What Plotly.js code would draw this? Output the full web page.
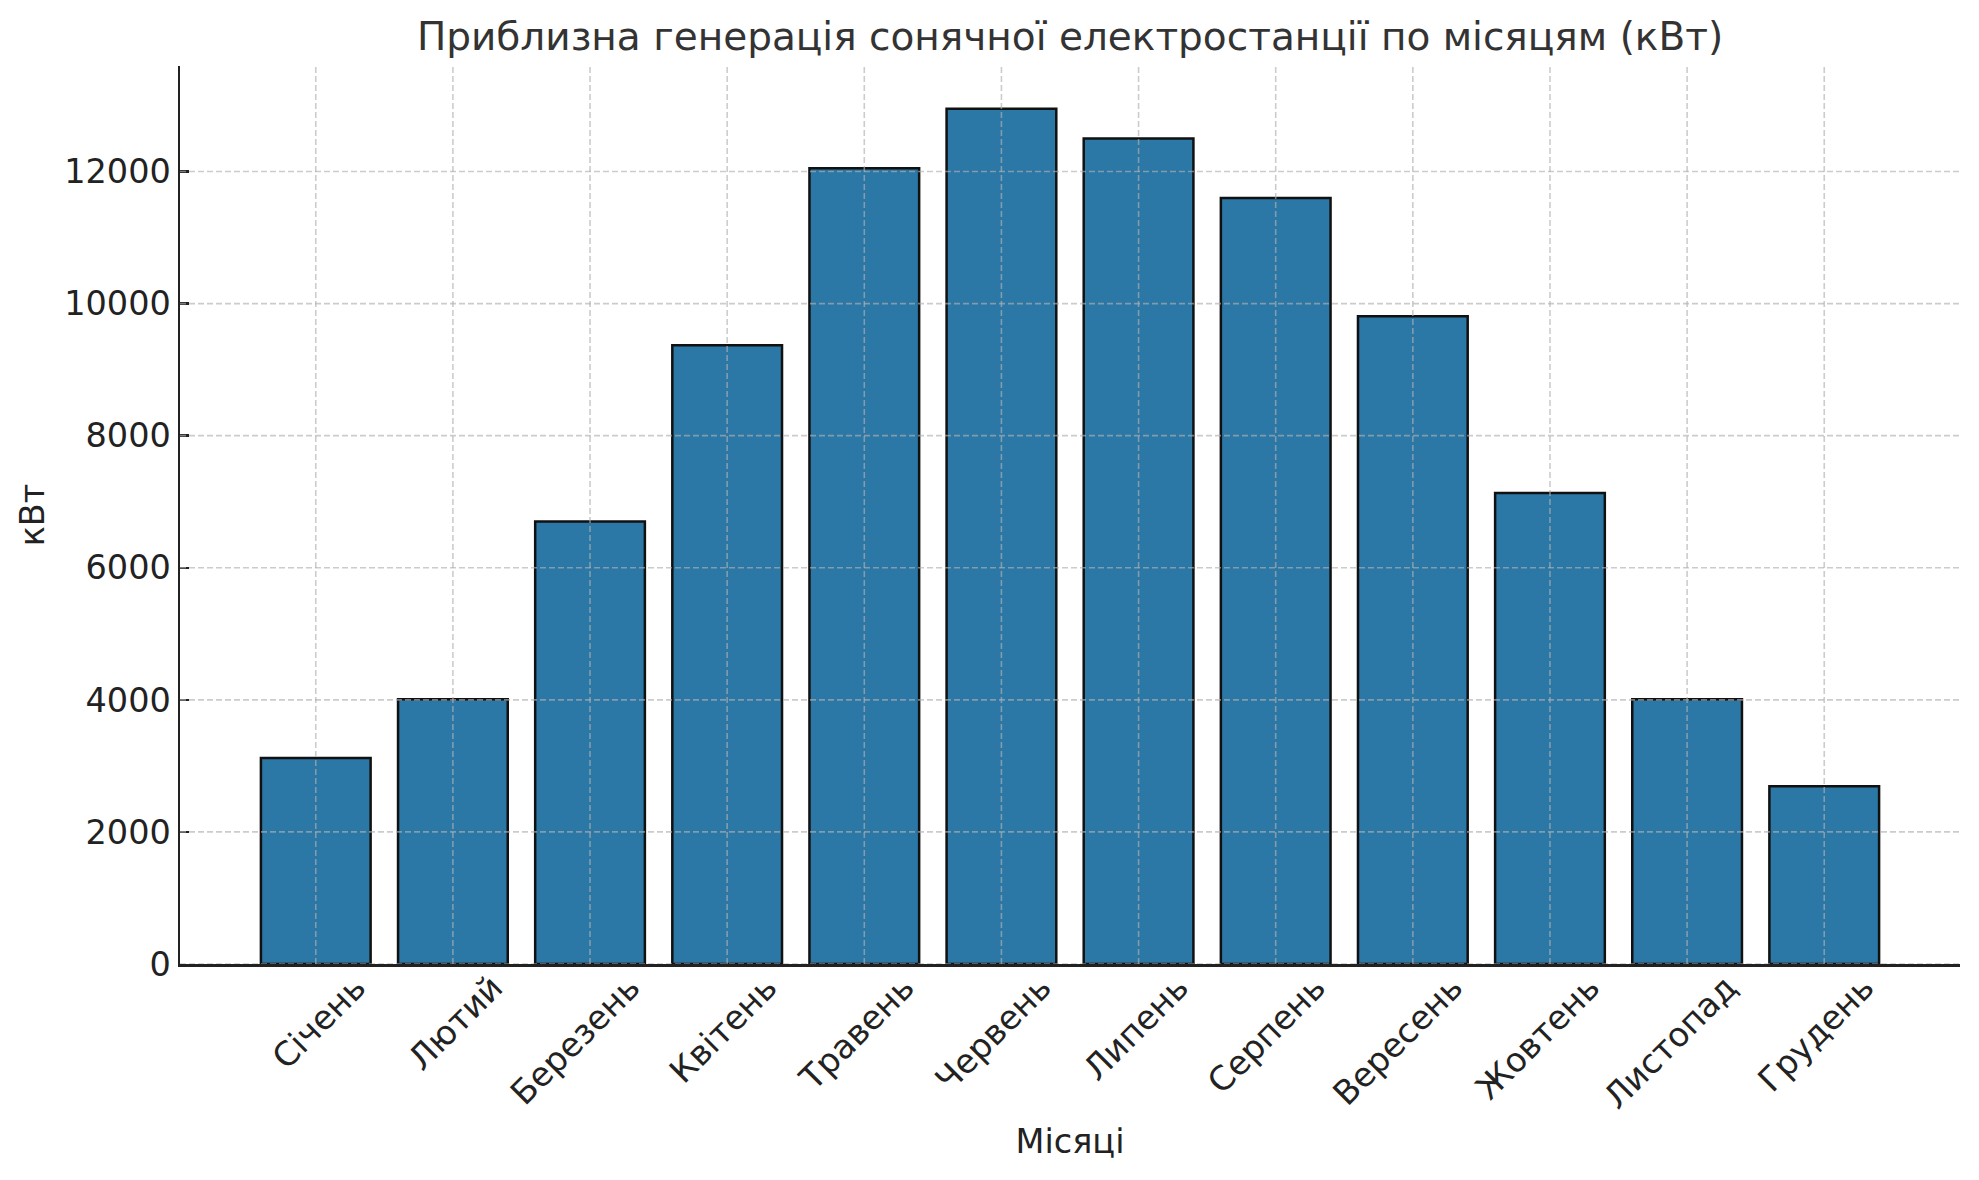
<!DOCTYPE html>
<html>
<head>
<meta charset="utf-8">
<script src="https://cdn.plot.ly/plotly-3.0.1.min.js"></script>
<style>
  html, body { margin: 0; padding: 0; background: #fff; }
  #chart { width: 1979px; height: 1180px; }
</style>
</head>
<body>
<div id="chart"></div>
<script>
// monthly generation
const months = ['Січень', 'Лютий', 'Березень', 'Квітень', 'Травень', 'Червень',
                'Липень', 'Серпень', 'Вересень', 'Жовтень', 'Листопад', 'Грудень'];
const generation = [3120, 4010, 6700, 9370, 12050, 12950, 12500, 11600, 9810, 7130, 4010, 2690];
const yTicks = [0, 2000, 4000, 6000, 8000, 10000, 12000];

const barWidth = 0.8;
const font = 'DejaVu Sans, sans-serif';
const gridColor = 'rgba(176,176,176,0.65)';

// matplotlib style limits: 5% padding around the bars
const xPad = (months.length - 1 + barWidth) * 0.05;
const xRange = [-barWidth / 2 - xPad, months.length - 1 + barWidth / 2 + xPad];
const yRange = [0, Math.max(...generation) * 1.05];

// grid drawn on top of the bars, like the original
const gridShapes = [];
yTicks.forEach(v => {
    gridShapes.push({
        type: 'line', layer: 'above', xref: 'paper', yref: 'y',
        x0: 0, x1: 1, y0: v, y1: v,
        line: { color: gridColor, width: 1.6, dash: '6px,3px' }
    });
});
months.forEach((m, i) => {
    gridShapes.push({
        type: 'line', layer: 'above', xref: 'x', yref: 'paper',
        x0: i, x1: i, y0: 0, y1: 1,
        line: { color: gridColor, width: 1.6, dash: '6px,3px' }
    });
});

const trace = {
    type: 'bar',
    x: months.map((m, i) => i),
    y: generation,
    width: barWidth,
    marker: { color: '#2b77a5', line: { color: '#111', width: 2.5 } },
    hoverinfo: 'x+y'
};

const layout = {
    width: 1979,
    height: 1180,
    margin: { l: 180, r: 19, t: 66, b: 216 },
    paper_bgcolor: '#fff',
    plot_bgcolor: '#fff',
    font: { family: font, size: 33.5, color: '#222' },
    showlegend: false,
    title: {
        text: 'Приблизна генерація сонячної електростанції по місяцям (кВт)',
        font: { family: font, size: 39, color: '#333' },
        x: 0.5, xref: 'paper', xanchor: 'center',
        y: 1 - 36 / 1180, yref: 'container', yanchor: 'middle'
    },
    xaxis: {
        range: xRange,
        tickmode: 'array',
        tickvals: months.map((m, i) => i),
        ticktext: months,
        tickangle: -45,
        ticklabelshift: 40,
        ticklabelstandoff: -12,
        ticks: '',
        showgrid: false,
        zeroline: false,
        showline: true,
        linecolor: '#222',
        linewidth: 2.5,
        tickfont: { family: font, size: 33.5, color: '#222' },
        title: { text: 'Місяці', font: { family: font, size: 33.5, color: '#222' }, standoff: 14 }
    },
    yaxis: {
        range: yRange,
        tickmode: 'array',
        tickvals: yTicks,
        ticktext: yTicks.map(String),
        ticks: 'inside',
        ticklen: 9,
        tickwidth: 2.5,
        tickcolor: '#222',
        showgrid: false,
        zeroline: false,
        showline: true,
        linecolor: '#222',
        linewidth: 2.5,
        tickfont: { family: font, size: 33.5, color: '#222' },
        title: { text: 'кВт', font: { family: font, size: 33.5, color: '#222' }, standoff: 10 }
    },
    shapes: gridShapes
};

Plotly.newPlot('chart', [trace], layout, { displayModeBar: false, staticPlot: true });
</script>
</body>
</html>
